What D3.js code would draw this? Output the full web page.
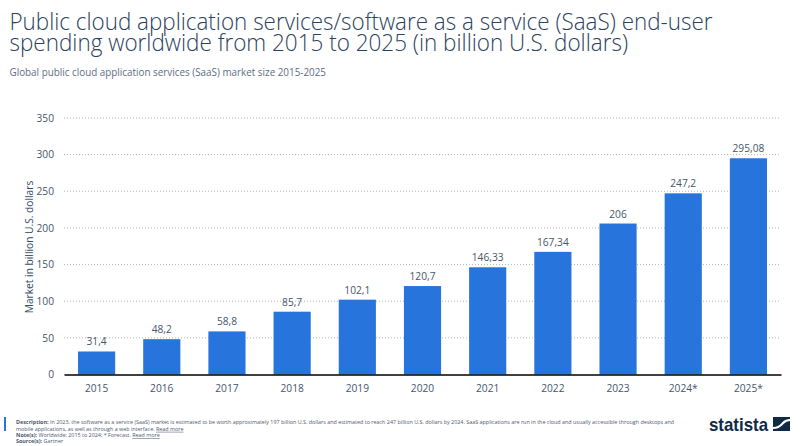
<!DOCTYPE html>
<html>
<head>
<meta charset="utf-8">
<script src="https://cdn.jsdelivr.net/npm/d3@7"></script>
<style>
  html, body { margin: 0; padding: 0; background: #fff; }
  svg { display: block; font-family: "Open Sans", sans-serif; }
  .y-axis path, .y-axis line, .x-axis line { display: none; }
  .tick text { font-size: 10.2px; fill: #46566b; font-family: "Open Sans", sans-serif; }
</style>
</head>
<body>
<svg id="chart" width="801" height="446"></svg>
<script>
let years = ["2015", "2016", "2017", "2018", "2019", "2020", "2021", "2022", "2023", "2024*", "2025*"];
let spending = [31.4, 48.2, 58.8, 85.7, 102.1, 120.7, 146.33, 167.34, 206, 247.2, 295.08];
let barLabels = ["31,4", "48,2", "58,8", "85,7", "102,1", "120,7", "146,33", "167,34", "206", "247,2", "295,08"];
let yTicks = [0, 50, 100, 150, 200, 250, 300, 350];

let svg = d3.select("#chart"),
    margin = {top: 118, right: 20, bottom: 71.5, left: 64},
    width = svg.attr("width") - margin.left - margin.right,
    height = svg.attr("height") - margin.top - margin.bottom,
    g = svg.append("g").attr("transform", "translate(" + margin.left + "," + margin.top + ")");

//define scales
let x = d3.scaleBand().domain(years).range([0, width]).paddingInner(0.43).paddingOuter(0.215),
    y = d3.scaleLinear().domain([0, 350]).range([height, 0]);

//grid lines
g.append("g")
    .selectAll("line")
    .data(yTicks.filter(function(d) { return d > 0; }))
    .enter()
    .append("line")
    .attr("x1", 0)
    .attr("x2", width)
    .attr("y1", function(d) { return y(d); })
    .attr("y2", function(d) { return y(d); })
    .style("stroke", "#b4b4b4")
    .style("stroke-width", 1)
    .style("stroke-dasharray", "1,2");

//bars
g.selectAll(".bar")
    .data(years)
    .enter()
    .append("rect")
    .attr("class", "bar")
    .attr("x", function(d) { return x(d); })
    .attr("y", function(d, i) { return y(spending[i]); })
    .attr("width", x.bandwidth())
    .attr("height", function(d, i) { return height - y(spending[i]); })
    .style("fill", "#2874dd");

//bar labels
g.selectAll(".label")
    .data(years)
    .enter()
    .append("text")
    .attr("class", "label")
    .attr("x", function(d) { return x(d) + x.bandwidth() / 2; })
    .attr("y", function(d, i) { return y(spending[i]) - 6; })
    .attr("text-anchor", "middle")
    .style("font-size", "10.2px")
    .style("fill", "#46566b")
    .text(function(d, i) { return barLabels[i]; });

//axes
g.append("g")
    .attr("class", "y-axis")
    .call(d3.axisLeft(y).tickValues(yTicks).tickSize(0).tickPadding(10));

let xAxis = g.append("g")
    .attr("class", "x-axis")
    .attr("transform", "translate(0," + height + ")")
    .call(d3.axisBottom(x).tickSize(0).tickPadding(10));
xAxis.select("path").style("stroke", "#000").style("stroke-width", 1.5);

//y axis title
svg.append("text")
    .attr("transform", "translate(33,247) rotate(-90)")
    .attr("text-anchor", "middle")
    .style("font-size", "10.2px")
    .style("fill", "#334a66")
    .text("Market in billion U.S. dollars");

//titles, squeezed a bit to the reference's line widths
let title = svg.append("g").style("fill", "#2b4260").style("font-size", "23.6px").style("font-weight", 300);
title.append("text").attr("x", 9.5).attr("y", 30)
    .attr("textLength", 703).attr("lengthAdjust", "spacingAndGlyphs")
    .text("Public cloud application services/software as a service (SaaS) end-user");
title.append("text").attr("x", 9.5).attr("y", 51)
    .attr("textLength", 618.5).attr("lengthAdjust", "spacingAndGlyphs")
    .text("spending worldwide from 2015 to 2025 (in billion U.S. dollars)");

svg.append("text")
    .attr("x", 9.5)
    .attr("y", 76)
    .attr("textLength", 316.5)
    .attr("lengthAdjust", "spacingAndGlyphs")
    .style("font-size", "10.3px")
    .style("fill", "#5d6d84")
    .text("Global public cloud application services (SaaS) market size 2015-2025");

//footer
svg.append("rect").attr("x", 4).attr("y", 417).attr("width", 2).attr("height", 14).style("fill", "#2874dd");

let foot = svg.append("g").style("font-size", "5.4px").style("fill", "#4a5a70");
let line1 = foot.append("text").attr("x", 16).attr("y", 424);
line1.append("tspan").style("font-weight", 700).text("Description: ");
line1.append("tspan").text("In 2023, the software as a service (SaaS) market is estimated to be worth approximately 197 billion U.S. dollars and estimated to reach 247 billion U.S. dollars by 2024. SaaS applications are run in the cloud and usually accessible through desktops and");
let line2 = foot.append("text").attr("x", 16).attr("y", 430.8);
line2.append("tspan").text("mobile applications, as well as through a web interface. ");
line2.append("tspan").style("text-decoration", "underline").text("Read more");
let line3 = foot.append("text").attr("x", 16).attr("y", 437);
line3.append("tspan").style("font-weight", 700).text("Note(s): ");
line3.append("tspan").text("Worldwide; 2015 to 2024; * Forecast. ");
line3.append("tspan").style("text-decoration", "underline").text("Read more");
let line4 = foot.append("text").attr("x", 16).attr("y", 443.2);
line4.append("tspan").style("font-weight", 700).text("Source(s): ");
line4.append("tspan").text("Gartner");

//logo
svg.append("text")
    .attr("x", 709)
    .attr("y", 431)
    .attr("textLength", 59)
    .attr("lengthAdjust", "spacingAndGlyphs")
    .style("font-family", "'Liberation Sans', sans-serif")
    .style("font-weight", 700)
    .style("font-size", "19px")
    .style("fill", "#0f2a47")
    .text("statista");
svg.append("rect").attr("x", 773).attr("y", 417).attr("width", 17).attr("height", 14).style("fill", "#0f2a47");
svg.append("path")
    .attr("d", "M773 428C780 428 781 425 783 423C785 421 787 420 790 420")
    .style("fill", "none")
    .style("stroke", "#fff")
    .style("stroke-width", 2.2);
</script>
</body>
</html>
